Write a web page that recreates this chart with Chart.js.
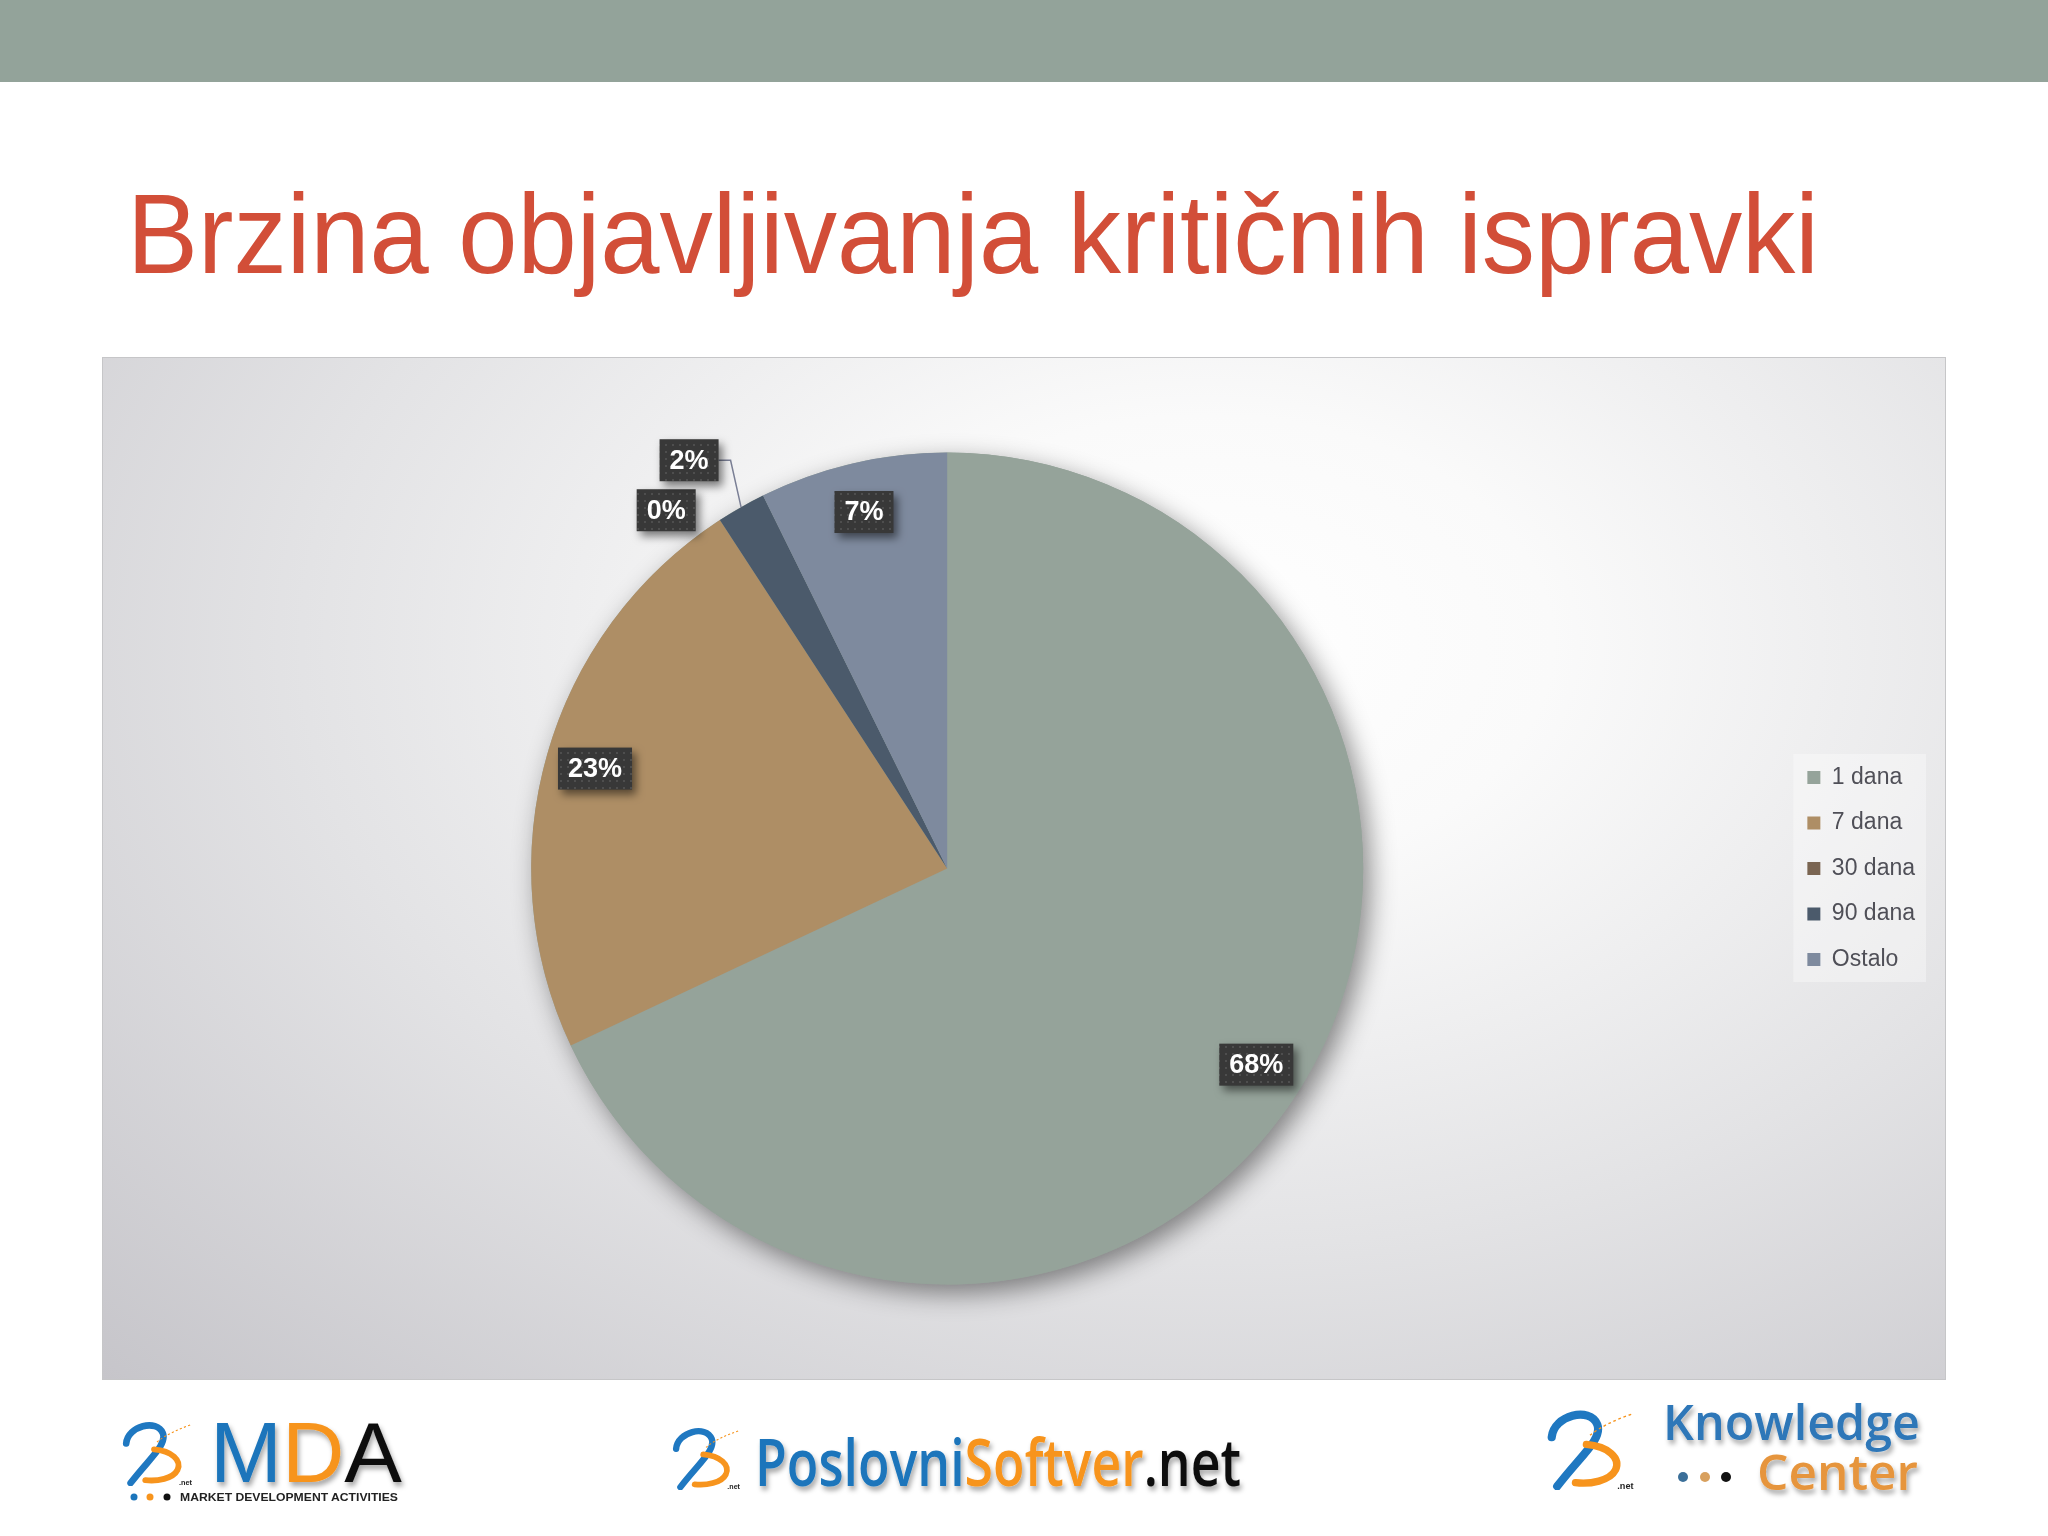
<!DOCTYPE html>
<html>
<head>
<meta charset="utf-8">
<script src="https://cdn.jsdelivr.net/npm/chart.js@4.4.0/dist/chart.umd.min.js"></script>
<style>
  body { margin: 0; width: 2048px; height: 1536px; background: #fff; position: relative; overflow: hidden; }
  #traka { position: absolute; left: 0; top: 0; width: 2048px; height: 82px; background: #93a39a; }
  #okvir {
    position: absolute; left: 102px; top: 357px; width: 1844px; height: 1023px;
    box-sizing: border-box; border: 1px solid #c6c6c8;
    background: radial-gradient(ellipse farthest-corner at 60% 28%, #ffffff 0%, #fafafa 22%, #e3e3e5 58%, #c6c5ca 100%);
  }
  #grafikon { position: absolute; left: 0; top: 0; }
  #natpisi { position: absolute; left: 0; top: 0; pointer-events: none; }
</style>
</head>
<body>
<div id="traka"></div>
<div id="okvir"><canvas id="grafikon" width="1842" height="1021"></canvas></div>

<svg id="natpisi" width="2048" height="1536" xmlns="http://www.w3.org/2000/svg">
  <defs>
    <filter id="sjena" x="-10%" y="-20%" width="130%" height="160%">
      <feDropShadow dx="2" dy="4" stdDeviation="2.5" flood-color="#000" flood-opacity="0.35"/>
    </filter>
    <symbol id="ikona" viewBox="0 0 100 90">
      <path d="M8,32 C10,8 50,-2 58,18 C64,34 40,52 14,86" fill="none" stroke="#1f78c1" stroke-width="9" stroke-linecap="round"/>
      <path d="M46,40 C70,42 84,55 78,68 C72,80 50,84 34,82" fill="none" stroke="#f7941d" stroke-width="8" stroke-linecap="round"/>
      <path d="M50,30 C62,20 80,12 98,6" fill="none" stroke="#f7941d" stroke-width="1.5" stroke-dasharray="3 3"/>
      <text x="80" y="89" font-family="Liberation Sans, Arial, sans-serif" font-size="10" font-weight="bold" fill="#222">.net</text>
    </symbol>
  </defs>

  <text x="127" y="273" font-family="Liberation Sans, Arial, sans-serif" font-size="113" fill="#d24e38"
        textLength="1692" lengthAdjust="spacingAndGlyphs">Brzina objavljivanja kritičnih ispravki</text>

  <!-- MDA -->
  <use href="#ikona" x="118" y="1420" width="78" height="66"/>
  <text x="210" y="1482" font-family="Liberation Sans, Arial, sans-serif" font-size="86" filter="url(#sjena)"
        textLength="192" lengthAdjust="spacingAndGlyphs"><tspan fill="#1b75bb">M</tspan><tspan fill="#f7941d">D</tspan><tspan fill="#111">A</tspan></text>
  <circle cx="134" cy="1497" r="3.5" fill="#1b75bb"/>
  <circle cx="150" cy="1497" r="3.5" fill="#f7941d"/>
  <circle cx="167" cy="1497" r="3.5" fill="#111"/>
  <text x="180" y="1501" font-family="Liberation Sans, Arial, sans-serif" font-size="10" font-weight="bold" fill="#222"
        textLength="218" lengthAdjust="spacingAndGlyphs">MARKET DEVELOPMENT ACTIVITIES</text>

  <!-- PoslovniSoftver.net -->
  <use href="#ikona" x="668" y="1426" width="76" height="64"/>
  <text x="755" y="1486" font-family="Open Sans, sans-serif" font-size="66" font-weight="600" filter="url(#sjena)"
        textLength="486" lengthAdjust="spacingAndGlyphs"><tspan fill="#1b75bb">Poslovni</tspan><tspan fill="#f7941d">Softver</tspan><tspan fill="#111">.net</tspan></text>

  <!-- Knowledge Center -->
  <use href="#ikona" x="1540" y="1408" width="100" height="82"/>
  <text x="1663" y="1440" font-family="Open Sans, sans-serif" font-size="48" font-weight="600" fill="#2f77b8" filter="url(#sjena)"
        textLength="257" lengthAdjust="spacingAndGlyphs">Knowledge</text>
  <circle cx="1683" cy="1477" r="5" fill="#3b6f99"/>
  <circle cx="1705" cy="1477" r="5" fill="#d8a05e"/>
  <circle cx="1726" cy="1477" r="5" fill="#111"/>
  <text x="1757" y="1490" font-family="Open Sans, sans-serif" font-size="48" font-weight="600" fill="#e6953c" filter="url(#sjena)"
        textLength="161" lengthAdjust="spacingAndGlyphs">Center</text>
</svg>

<script>
const kategorije = ['1 dana', '7 dana', '30 dana', '90 dana', 'Ostalo'];
const udjeli = [68.0, 22.8, 0, 1.9, 7.3];
const boje = ['#95a39a', '#ae8e65', '#7a6552', '#4b5a6b', '#7e8a9e'];

let ctx = document.getElementById('grafikon').getContext('2d');

// tackasta pozadina za oznake
const uzorakPlatno = document.createElement('canvas');
uzorakPlatno.width = 7;
uzorakPlatno.height = 7;
const u = uzorakPlatno.getContext('2d');
u.fillStyle = '#383838';
u.fillRect(0, 0, 7, 7);
u.fillStyle = '#4e4e4e';
u.fillRect(2, 2, 2, 2);
const uzorak = ctx.createPattern(uzorakPlatno, 'repeat');

// sjena ispod pite
const sjenaPite = {
	id: 'sjenaPite',
	beforeDatasetsDraw(chart) {
		const arc = chart.getDatasetMeta(0).data[0];
		if (!arc) return;
		const c = chart.ctx;
		c.save();
		c.shadowColor = 'rgba(0,0,0,0.45)';
		c.shadowBlur = 26;
		c.shadowOffsetX = 7;
		c.shadowOffsetY = 9;
		c.fillStyle = boje[0];
		c.beginPath();
		c.arc(arc.x, arc.y, arc.outerRadius, 0, Math.PI * 2);
		c.fill();
		c.restore();
	}
};

// pozadina legende
const pozadinaLegende = {
	id: 'pozadinaLegende',
	beforeDraw(chart) {
		const hb = chart.legend && chart.legend.legendHitBoxes;
		if (!hb || !hb.length) return;
		const lijevo = Math.min(...hb.map(h => h.left)) - 14;
		const desno = Math.max(...hb.map(h => h.left + h.width)) + 11;
		const gore = hb[0].top - 12;
		const dolje = hb[hb.length - 1].top + hb[hb.length - 1].height + 11;
		const c = chart.ctx;
		c.save();
		c.fillStyle = 'rgba(255,255,255,0.35)';
		c.fillRect(lijevo, gore, desno - lijevo, dolje - gore);
		c.restore();
	}
};

// oznake postotaka
const oznake = {
	id: 'oznake',
	afterDatasetsDraw(chart) {
		const c = chart.ctx;
		const meta = chart.getDatasetMeta(0);
		const vrijednosti = chart.data.datasets[0].data;
		const ukupno = vrijednosti.reduce((a, b) => a + b, 0);
		c.save();
		c.font = 'bold 27px "Liberation Sans", Arial, sans-serif';
		const visina = 42;
		const lista = [];
		meta.data.forEach((arc, i) => {
			const p = arc.getProps(['x', 'y', 'startAngle', 'endAngle', 'outerRadius'], true);
			const sred = (p.startAngle + p.endAngle) / 2;
			const postotak = vrijednosti[i] / ukupno * 100;
			const tekst = Math.round(postotak) + '%';
			const sirina = c.measureText(tekst).width + 20;
			const vani = postotak < 3;
			const r = vani ? p.outerRadius * 1.08 : p.outerRadius * 0.88;
			const ax = p.x + Math.cos(sred) * r;
			const ay = p.y + Math.sin(sred) * r;
			let cx = ax;
			if (vani) cx = Math.cos(sred) < 0 ? ax - sirina / 2 - 6 : ax + sirina / 2 + 6;
			lista.push({
				tekst, sirina, vani, cx, cy: ay,
				rubX: p.x + Math.cos(sred) * p.outerRadius,
				rubY: p.y + Math.sin(sred) * p.outerRadius,
				lijevo: Math.cos(sred) < 0
			});
		});

		// razmakni vanjske oznake
		const vanjske = lista.filter(o => o.vani).sort((a, b) => a.cy - b.cy);
		for (let k = 0; k < 20; k++) {
			for (let j = 1; j < vanjske.length; j++) {
				const a = vanjske[j - 1], b = vanjske[j];
				const preklop = visina + 8 - (b.cy - a.cy);
				if (preklop > 0) {
					a.cy -= preklop / 2;
					b.cy += preklop / 2;
				}
			}
		}

		lista.forEach(o => {
			const x0 = o.cx - o.sirina / 2;
			const y0 = o.cy - visina / 2;
			if (o.vani) {
				const ix = o.lijevo ? x0 + o.sirina : x0;
				const d = Math.hypot(o.rubX - ix, o.rubY - o.cy);
				if (d > 35) {
					c.strokeStyle = '#7a7f95';
					c.lineWidth = 1.5;
					c.beginPath();
					c.moveTo(ix, o.cy);
					c.lineTo(ix + (o.lijevo ? 12 : -12), o.cy);
					c.lineTo(o.rubX, o.rubY);
					c.stroke();
				}
			}
			c.shadowColor = 'rgba(0,0,0,0.5)';
			c.shadowBlur = 8;
			c.shadowOffsetX = 4;
			c.shadowOffsetY = 5;
			c.fillStyle = uzorak;
			c.fillRect(x0, y0, o.sirina, visina);
			c.shadowColor = 'transparent';
			c.fillStyle = '#ffffff';
			c.textAlign = 'center';
			c.textBaseline = 'middle';
			c.fillText(o.tekst, o.cx, o.cy + 1);
		});
		c.restore();
	}
};

let grafikon = new Chart(ctx, {
	type: 'pie',
	data: {
		labels: kategorije,
		datasets: [
			{
				data: udjeli,
				backgroundColor: boje,
				borderWidth: 0
			}
		]
	},
	options: {
		responsive: false,
		animation: false,
		devicePixelRatio: 1,
		layout: {
			padding: { left: 6.5, right: 20, top: 94.5, bottom: 94.5 }
		},
		plugins: {
			legend: {
				position: 'right',
				labels: {
					boxWidth: 13,
					boxHeight: 13,
					padding: 22.5,
					color: '#4f4f57',
					font: { family: '"Liberation Sans", Arial, sans-serif', size: 23 }
				}
			},
			tooltip: { enabled: false }
		}
	},
	plugins: [sjenaPite, pozadinaLegende, oznake]
});
</script>
</body>
</html>
